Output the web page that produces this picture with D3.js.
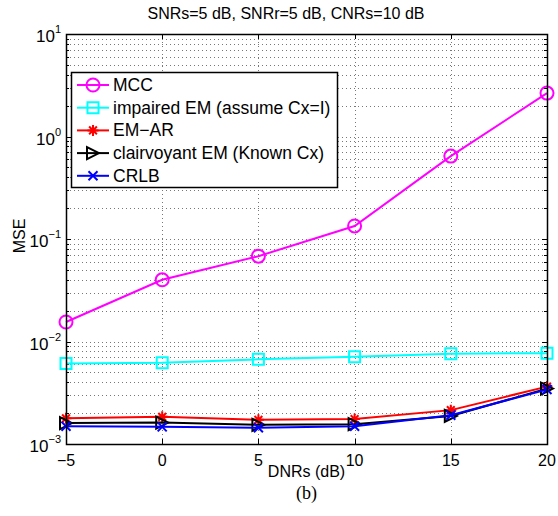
<!DOCTYPE html>
<html>
<head>
<meta charset="utf-8">
<script src="https://cdn.jsdelivr.net/npm/d3@7"></script>
<style>
  body { margin: 0; background: #fff; }
  text { font-family: "Liberation Sans", Arial, sans-serif; }
</style>
</head>
<body>
<div id="plot"></div>
<script>
const FRAME_WIDTH = 558;
const FRAME_HEIGHT = 516;
const MARGIN = {left: 66, right: 11, top: 34, bottom: 72};

// data
const dnr = [-5, 0, 5, 10, 15, 20];
const mcc = [0.0155, 0.040, 0.068, 0.134, 0.644, 2.65];
const impaired = [0.0061, 0.0062, 0.0067, 0.0071, 0.0076, 0.0077];
const emAr = [0.00178, 0.00184, 0.00172, 0.00175, 0.00214, 0.00363];
const clairvoyant = [0.0016, 0.00162, 0.00154, 0.00156, 0.00188, 0.00347];
const crlb = [0.00149, 0.00147, 0.00144, 0.00149, 0.00191, 0.0034];

const seriesNames = ["MCC", "impaired EM (assume Cx=I)", "EM\u2212AR", "clairvoyant EM (Known Cx)", "CRLB"];
const seriesColors = ["#ff00ff", "#00ffff", "#ff0000", "#000000", "#0000ff"];
const seriesMarkers = ["circle", "square", "star", "triangle", "x"];
const seriesValues = [mcc, impaired, emAr, clairvoyant, crlb];

const xTicks = [-5, 0, 5, 10, 15, 20];
const yExponents = [-3, -2, -1, 0, 1];

const VIS_WIDTH = FRAME_WIDTH - MARGIN.left - MARGIN.right;
const VIS_HEIGHT = FRAME_HEIGHT - MARGIN.top - MARGIN.bottom;

const FRAME = d3.select("#plot")
  .append("svg")
    .attr("width", FRAME_WIDTH)
    .attr("height", FRAME_HEIGHT);

const X_SCALE = d3.scaleLinear().domain([-5, 20]).range([MARGIN.left, MARGIN.left + VIS_WIDTH]);
const Y_SCALE = d3.scaleLog().domain([1e-3, 1e1]).range([MARGIN.top + VIS_HEIGHT, MARGIN.top]);

// minor + major y values
const yGrid = [];
yExponents.forEach(e => {
  if (e === 1) { yGrid.push(10); return; }
  for (let m = 1; m < 10; m++) yGrid.push(m * Math.pow(10, e));
});

// grid
const grid = FRAME.append("g").attr("stroke", "#777").attr("stroke-width", 1).attr("stroke-dasharray", "1,3");
grid.selectAll("line.h")
  .data(yGrid.filter(v => v > 1e-3 && v < 10))
  .enter().append("line")
    .attr("x1", MARGIN.left).attr("x2", MARGIN.left + VIS_WIDTH)
    .attr("y1", d => Math.round(Y_SCALE(d)) + 0.5).attr("y2", d => Math.round(Y_SCALE(d)) + 0.5);
grid.selectAll("line.v")
  .data(xTicks.slice(1, -1))
  .enter().append("line")
    .attr("y1", MARGIN.top).attr("y2", MARGIN.top + VIS_HEIGHT)
    .attr("x1", d => Math.round(X_SCALE(d)) + 0.5).attr("x2", d => Math.round(X_SCALE(d)) + 0.5);

// axes (ticks inward, both sides)
const axisG = FRAME.append("g").attr("stroke", "#000").attr("stroke-width", 1);
xTicks.forEach(t => {
  const x = Math.round(X_SCALE(t)) + 0.5;
  axisG.append("line").attr("x1", x).attr("x2", x).attr("y1", MARGIN.top + VIS_HEIGHT).attr("y2", MARGIN.top + VIS_HEIGHT - 5);
  axisG.append("line").attr("x1", x).attr("x2", x).attr("y1", MARGIN.top).attr("y2", MARGIN.top + 5);
});
yGrid.forEach(v => {
  const y = Math.round(Y_SCALE(v)) + 0.5;
  const major = Math.abs(Math.log10(v) - Math.round(Math.log10(v))) < 1e-9;
  const len = major ? 5 : 3;
  axisG.append("line").attr("x1", MARGIN.left).attr("x2", MARGIN.left + len).attr("y1", y).attr("y2", y);
  axisG.append("line").attr("x1", MARGIN.left + VIS_WIDTH).attr("x2", MARGIN.left + VIS_WIDTH - len).attr("y1", y).attr("y2", y);
});

// marker paths
function markerPath(type, s) {
  switch (type) {
    case "circle": return d3.arc()({innerRadius: 0, outerRadius: s, startAngle: 0, endAngle: 2 * Math.PI});
    case "square": return `M${-s},${-s}H${s}V${s}H${-s}Z`;
    case "star": {
      const d = s * 0.707;
      return `M${-s},0H${s}M0,${-s}V${s}M${-d},${-d}L${d},${d}M${-d},${d}L${d},${-d}`;
    }
    case "triangle": return `M${s},0L${-s},${-s}L${-s},${s}Z`;
    case "x": return `M${-s},${-s}L${s},${s}M${-s},${s}L${s},${-s}`;
  }
}
const markerSize = {circle: 6.5, square: 5.5, star: 5.5, triangle: 6, x: 4.5};

// series
const line = d3.line().x((d, i) => X_SCALE(dnr[i])).y(d => Y_SCALE(d));
seriesValues.forEach((vals, k) => {
  const g = FRAME.append("g");
  g.append("path")
    .attr("d", line(vals))
    .attr("fill", "none")
    .attr("stroke", seriesColors[k])
    .attr("stroke-width", 2);
  g.selectAll("path.m")
    .data(vals)
    .enter().append("path")
      .attr("d", markerPath(seriesMarkers[k], markerSize[seriesMarkers[k]]))
      .attr("transform", (d, i) => `translate(${X_SCALE(dnr[i])},${Y_SCALE(d)})`)
      .attr("fill", "none")
      .attr("stroke", seriesColors[k])
      .attr("stroke-width", 2);
});

// plot box
FRAME.append("rect")
  .attr("x", MARGIN.left + 0.5).attr("y", MARGIN.top + 0.5)
  .attr("width", VIS_WIDTH).attr("height", VIS_HEIGHT)
  .attr("fill", "none").attr("stroke", "#000").attr("stroke-width", 1.5);

// tick labels
FRAME.selectAll("text.xt")
  .data(xTicks)
  .enter().append("text")
    .attr("x", d => X_SCALE(d))
    .attr("y", MARGIN.top + VIS_HEIGHT + 22)
    .attr("text-anchor", "middle")
    .attr("font-size", 16)
    .text(d => d < 0 ? "\u2212" + Math.abs(d) : d);

yExponents.forEach(e => {
  const t = FRAME.append("text")
    .attr("x", 61)
    .attr("y", Y_SCALE(Math.pow(10, e)) + 8)
    .attr("text-anchor", "end")
    .attr("font-size", 17);
  t.append("tspan").text("10");
  t.append("tspan").attr("dy", -9).attr("font-size", 11).text(e < 0 ? "\u2212" + Math.abs(e) : e);
});

// titles
FRAME.append("text")
  .attr("x", 286).attr("y", 19)
  .attr("text-anchor", "middle").attr("font-size", 16)
  .text("SNRs=5 dB, SNRr=5 dB, CNRs=10 dB");
FRAME.append("text")
  .attr("x", MARGIN.left + VIS_WIDTH / 2).attr("y", 477)
  .attr("text-anchor", "middle").attr("font-size", 16)
  .text("DNRs (dB)");
FRAME.append("text")
  .attr("transform", "translate(25,236) rotate(-90)")
  .attr("text-anchor", "middle").attr("font-size", 16)
  .text("MSE");
FRAME.append("text")
  .attr("x", MARGIN.left + VIS_WIDTH / 2).attr("y", 499)
  .attr("text-anchor", "middle").attr("font-size", 18)
  .style("font-family", "'Liberation Serif', 'Times New Roman', serif")
  .text("(b)");

// legend
const LEG = {x: 71, y: 72, w: 266, h: 115, row: 22.7};
const legend = FRAME.append("g");
legend.append("rect")
  .attr("x", LEG.x + 0.5).attr("y", LEG.y + 0.5)
  .attr("width", LEG.w).attr("height", LEG.h)
  .attr("fill", "#fff").attr("stroke", "#000").attr("stroke-width", 1.5);
seriesNames.forEach((name, k) => {
  const y = LEG.y + 13 + k * LEG.row;
  legend.append("line")
    .attr("x1", 77).attr("x2", 109).attr("y1", y).attr("y2", y)
    .attr("stroke", seriesColors[k]).attr("stroke-width", 2);
  legend.append("path")
    .attr("d", markerPath(seriesMarkers[k], markerSize[seriesMarkers[k]]))
    .attr("transform", `translate(93,${y})`)
    .attr("fill", "none").attr("stroke", seriesColors[k]).attr("stroke-width", 2);
  legend.append("text")
    .attr("x", 113).attr("y", y + 6)
    .attr("font-size", 17.5)
    .text(name);
});
</script>
</body>
</html>
